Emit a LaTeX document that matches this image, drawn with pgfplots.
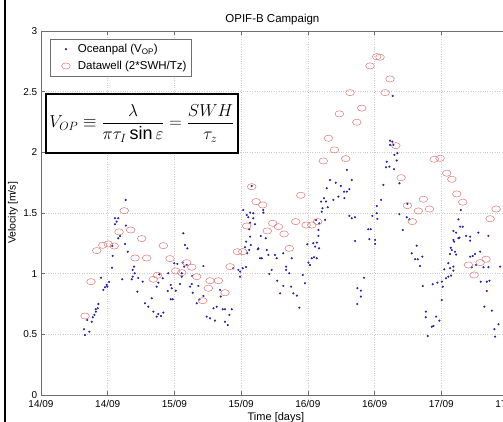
\documentclass[border=0pt]{standalone}
\usepackage{pgfplots}
\pgfplotsset{compat=1.18}
\usepackage{fontspec}
\setmainfont{Liberation Sans}
\definecolor{dotblue}{RGB}{35,35,170}
\definecolor{circred}{RGB}{222,120,120}
\definecolor{axgray}{RGB}{110,110,110}
\begin{document}
\begin{tikzpicture}
\useasboundingbox (0,0) rectangle (503pt,422pt);
\fill[white] (0,0) rectangle (503pt,422pt);
\begin{scope}
\clip (0,0) rectangle (503pt,422pt);
\begin{axis}[
  at={(41pt,27pt)}, anchor=south west,
  scale only axis, width=467pt, height=364pt,
  xmin=0, xmax=3.5, ymin=0, ymax=3,
  xtick={0,0.5,1,1.5,2,2.5,3,3.5},
  xticklabels={14/09,14/09,15/09,15/09,16/09,16/09,17/09,17/09},
  ytick={0,0.5,1,1.5,2,2.5,3},
  yticklabels={0,0.5,1,1.5,2,2.5,3},
  tick align=inside, major tick length=4pt,
  xtick pos=both, ytick pos=both,
  axis line style={axgray, line width=0.6pt},
  tick style={axgray, line width=0.5pt},
  grid=major, grid style={dotted, gray!40, line width=0.5pt},
  ticklabel style={font=\fontsize{10}{12}\selectfont},
  xticklabel style={inner sep=0pt, yshift=-5pt},
  yticklabel style={inner sep=0pt, xshift=-3.5pt},
  title={OPIF-B Campaign},
  title style={font=\fontsize{11.5}{13}\selectfont, inner sep=0pt, at={(axis description cs:0.4955,1)}, anchor=south},
  xlabel={Time [days]},
  xlabel style={font=\fontsize{11}{13}\selectfont, inner sep=0pt, at={(axis description cs:0.503,-0.048)}, anchor=north},
  ylabel={Velocity [m/s]},
  ylabel style={font=\fontsize{10.5}{12}\selectfont, inner sep=0pt, at={(axis description cs:-0.0600,0.5)}, anchor=center},
  legend style={font=\fontsize{11.5}{13.5}\selectfont, at={(axis description cs:0.019,0.978)}, anchor=north west, draw=axgray, line width=0.5pt, inner xsep=3pt, inner ysep=3pt, row sep=3pt},
  legend cell align=left,
  legend image code/.code={\path[draw=none] (0cm,0cm) -- (0.8cm,0cm); \draw[#1] plot[only marks] coordinates {(0.45cm,0cm)};},
]
\addplot[only marks, mark=*, mark size=0.85pt, color=dotblue] table {
x y
0.322 0.542
0.330 0.495
0.362 0.522
0.347 0.618
0.380 0.604
0.388 0.641
0.400 0.660
0.412 0.687
0.410 0.707
0.425 0.715
0.430 0.750
0.450 0.967
0.467 0.866
0.480 0.888
0.492 0.907
0.497 0.893
0.510 0.932
0.532 1.049
0.537 1.146
0.534 1.228
0.555 1.457
0.579 1.457
0.567 1.429
0.555 1.407
0.592 1.311
0.579 1.292
0.635 1.608
0.637 1.396
0.630 1.245
0.650 1.181
0.609 0.954
0.687 0.975
0.680 0.954
0.697 1.058
0.687 1.031
0.702 1.003
0.729 0.965
0.722 0.852
0.762 0.934
0.780 0.756
0.804 0.728
0.830 0.797
0.842 0.687
0.867 0.646
0.879 0.668
0.900 0.651
0.917 0.679
0.867 0.893
0.879 0.926
0.887 0.995
0.912 0.962
0.950 0.857
0.954 1.003
0.972 0.907
0.980 0.880
0.972 0.789
0.987 0.789
1.010 0.860
0.999 1.086
1.022 1.080
1.042 0.915
1.055 1.003
1.055 0.975
1.062 1.091
1.072 1.058
1.092 1.072
1.067 1.333
1.079 1.237
1.097 1.209
1.117 0.893
1.130 0.915
1.134 0.981
1.137 0.843
1.167 0.756
1.179 0.899
1.187 0.789
1.217 0.816
1.217 1.063
1.242 0.646
1.267 0.632
1.304 0.613
1.292 0.715
1.317 0.728
1.342 0.866
1.347 0.811
1.362 0.707
1.379 0.707
1.430 0.707
1.379 0.604
1.400 0.577
1.412 0.660
1.441 1.045
1.479 1.031
1.492 1.017
1.512 1.045
1.537 1.055
1.492 0.975
1.516 1.525
1.542 1.484
1.554 1.465
1.567 1.420
1.561 1.366
1.567 1.305
1.572 1.237
1.537 1.264
1.529 1.218
1.546 1.168
1.561 1.195
1.579 1.723
1.567 1.503
1.591 1.498
1.591 1.457
1.604 1.407
1.629 1.209
1.666 1.525
1.666 1.503
1.647 1.311
1.684 1.292
1.624 1.201
1.642 1.127
1.654 1.127
1.692 1.195
1.704 1.154
1.754 1.154
1.767 1.127
1.816 1.168
1.879 1.127
1.729 1.031
1.711 0.998
1.771 0.942
1.792 0.838
1.816 0.899
1.837 1.058
1.837 1.031
1.861 1.003
1.874 0.893
1.891 0.838
1.917 0.819
1.936 0.720
1.962 0.989
1.979 0.921
1.996 1.242
2.004 1.091
2.016 1.072
2.029 1.127
2.046 1.135
2.067 1.127
2.041 1.251
2.054 1.223
2.067 1.256
2.084 1.209
2.079 1.311
2.079 1.360
2.086 1.415
2.061 1.443
2.129 1.443
2.104 1.511
2.109 1.539
2.099 1.594
2.121 1.622
2.136 1.594
2.149 1.547
2.142 1.704
2.166 1.772
2.191 1.608
2.229 1.635
2.209 1.750
2.247 1.723
2.271 1.676
2.292 1.676
2.311 1.696
2.329 1.772
2.274 1.622
2.292 1.855
2.311 1.476
2.329 1.457
2.354 1.465
2.354 1.270
2.421 0.967
2.371 0.880
2.397 0.860
2.397 0.811
2.371 0.750
2.453 1.366
2.471 1.366
2.461 1.284
2.504 1.278
2.504 1.245
2.483 1.476
2.516 1.498
2.521 1.451
2.516 1.558
2.549 1.608
2.566 1.731
2.586 1.877
2.591 1.923
2.611 1.882
2.616 2.096
2.633 2.088
2.641 2.061
2.616 2.061
2.648 1.979
2.671 1.993
2.666 1.932
2.646 1.861
2.636 2.465
2.686 1.745
2.686 1.490
2.711 1.360
2.741 1.465
2.761 1.448
2.746 1.575
2.816 1.231
2.779 1.168
2.804 1.119
2.824 1.119
2.858 1.140
2.841 1.063
2.861 0.899
2.936 0.913
2.971 0.926
3.004 0.934
3.011 0.893
3.004 0.783
2.884 0.687
2.884 0.641
2.899 0.486
2.929 0.563
2.941 0.569
2.961 0.646
2.986 0.613
3.023 1.036
3.053 1.086
3.066 1.045
3.091 1.058
3.091 1.025
3.036 0.962
3.053 0.975
3.073 0.984
3.066 1.162
3.079 1.195
3.103 1.181
3.071 1.214
3.111 1.157
3.096 1.264
3.091 1.278
3.128 1.292
3.136 1.297
3.091 1.352
3.111 1.338
3.141 1.387
3.161 1.387
3.128 1.448
3.146 1.525
3.186 1.311
3.216 1.272
3.216 1.305
3.216 1.140
3.236 1.146
3.253 1.162
3.291 1.181
3.261 1.072
3.278 1.338
3.353 1.311
3.228 1.053
3.316 1.053
3.353 1.053
3.296 0.934
3.341 0.934
3.361 0.942
3.341 0.857
3.323 0.728
3.379 0.695
3.398 0.542
3.428 0.583
3.403 0.481
3.441 1.058
};
\addlegendentry{Oceanpal (V\textsubscript{OP})}
\addplot[only marks, mark=o, mark size=3.1pt, mark options={xscale=1.4, line width=0.5pt}, color=circred] table {
x y
0.330 0.651
0.375 0.934
0.418 1.190
0.463 1.234
0.504 1.245
0.549 1.228
0.585 1.344
0.624 1.519
0.672 1.360
0.705 1.129
0.755 1.289
0.792 1.129
0.842 0.954
0.872 0.987
0.917 1.231
0.967 1.124
1.010 1.022
1.055 1.008
1.092 1.091
1.130 1.053
1.167 0.975
1.212 0.777
1.254 0.880
1.267 0.942
1.329 0.942
1.379 0.843
1.417 1.058
1.472 1.181
1.512 1.181
1.542 1.393
1.579 1.717
1.612 1.594
1.662 1.566
1.696 1.352
1.737 1.415
1.779 1.387
1.822 1.327
1.861 1.209
1.909 1.429
1.947 1.646
1.987 1.401
2.029 1.401
2.074 1.429
2.116 1.929
2.154 2.116
2.199 2.020
2.236 2.317
2.284 1.948
2.316 2.492
2.367 2.248
2.404 2.364
2.466 2.712
2.516 2.789
2.541 2.784
2.579 2.492
2.616 2.605
2.659 2.055
2.699 1.791
2.746 1.561
2.783 1.429
2.828 1.517
2.866 1.613
2.911 1.533
2.948 1.943
2.991 1.951
3.041 1.828
3.079 1.778
3.116 1.657
3.161 1.589
3.203 1.072
3.246 0.989
3.291 1.091
3.336 1.119
3.366 1.453
3.411 1.533
};
\addlegendentry{Datawell (2*SWH/Tz)}
\end{axis}
\end{scope}
\draw[line width=2.6pt] (5pt,0) -- (5pt,422pt);
\node[draw, line width=1.6pt, fill=white, minimum width=192pt, minimum height=59pt, inner sep=1pt, anchor=north west] at (45pt,329pt)
  {\fontsize{18}{21}\selectfont $\displaystyle V_{OP} \equiv \frac{\lambda}{\pi\tau_{I}\sin\varepsilon} = \frac{SWH}{\tau_{z}}$};
\end{tikzpicture}
\end{document}
